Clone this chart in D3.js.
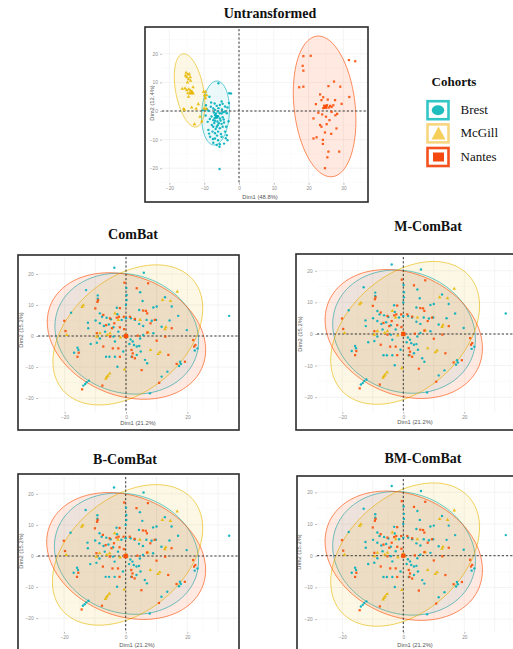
<!DOCTYPE html>
<html>
<head>
<meta charset="utf-8">
<script src="https://cdn.jsdelivr.net/npm/d3@7"></script>
<style>
  html, body { margin: 0; padding: 0; background: #ffffff; }
  svg { display: block; }
</style>
</head>
<body>
<svg id="chart" width="513" height="649"></svg>
<script>
// ---------------- data ----------------
const cohorts = ["Brest", "McGill", "Nantes"];
const cohortColors = ["#00AFBB", "#E7B800", "#FC4E07"];

const panelTitles = ["Untransformed", "ComBat", "M-ComBat", "B-ComBat", "BM-ComBat"];
const rawAxisTitles = ["Dim1 (48.8%)", "Dim2 (12.4%)"];
const harmonizedAxisTitles = ["Dim1 (21.2%)", "Dim2 (15.2%)"];
const rawXTicks = [-20, -10, 0, 10, 20, 30];
const rawYTicks = [-20, -10, 0, 10, 20];
const harmonizedXTicks = [-20, 0, 20];
const harmonizedYTicks = [-20, -10, 0, 10, 20];

// PCA scores before harmonization
const rawBrest = [
  [-5.9,9.7],[-8.5,5.0],[-2.8,6.2],[-2.3,6.1],[-5.0,3.3],[-6.4,1.8],[-5.5,2.1],[-4.7,2.5],[-4.0,1.6],[-3.3,1.2],
  [-8.1,1.5],[-7.4,0.9],[-6.9,0.4],[-9.2,0.6],[-8.8,0.1],[-10.3,0.3],[-6.0,-0.2],[-5.5,-0.8],[-5.0,-0.9],[-4.5,-0.4],
  [-4.0,-0.2],[-3.5,-0.8],[-6.9,-1.4],[-6.4,-2.2],[-6.0,-1.8],[-5.5,-2.6],[-4.7,-2.2],[-7.4,-3.2],[-6.9,-3.4],[-6.2,-3.7],
  [-5.8,-4.3],[-5.0,-4.5],[-4.3,-4.0],[-7.8,-4.9],[-7.4,-5.5],[-6.4,-5.5],[-5.5,-6.0],[-4.7,-5.5],[-3.7,-5.5],[-8.8,-6.6],
  [-7.6,-7.2],[-6.9,-7.8],[-6.0,-7.2],[-5.2,-8.0],[-4.0,-7.2],[-8.3,-9.0],[-6.9,-9.6],[-6.0,-10.2],[-5.0,-9.0],[-3.5,-8.5],
  [-7.4,-11.1],[-6.4,-11.9],[-5.5,-11.6],[-4.3,-11.4],[-3.3,-10.2],[-5.6,-20.3],[-7.2,-0.5],[-6.6,-0.9],[-7.9,-1.9],[-8.4,-2.8],
  [-7.0,-2.5],[-6.7,-6.3],[-5.3,-3.3],[-4.4,-3.0],[-6.1,-5.0],[-7.1,-4.2],[-5.9,1.0],[-4.9,0.5],[-8.0,3.0],[-7.0,2.6],
  [-9.6,-1.6],[-9.0,-3.8],[-3.8,-9.5],[-2.9,2.8],[-6.3,-8.6],[-7.5,-9.8],[-8.6,-7.9],[-5.6,-12.5],[-3.0,-3.6],[-9.5,2.0]
];
const rawMcGill = [
  [-15.2,13.4],[-14.7,12.8],[-14.3,12.9],[-15.0,11.8],[-14.5,11.1],[-13.9,10.6],[-14.8,10.0],[-15.5,7.9],[-15.0,7.3],[-14.4,7.6],
  [-13.9,7.1],[-13.6,6.7],[-14.7,6.2],[-14.1,6.2],[-14.5,5.0],[-16.3,7.8],[-15.9,0.7],[-15.7,0.4],[-10.2,6.7],[-9.6,6.7],
  [-9.9,5.5],[-9.3,5.5],[-9.6,4.5],[-11.2,-2.0],[-10.7,-3.7],[-11.7,2.4],[-13.6,1.2],[-12.3,0.8],[-10.0,0.9],[-9.4,0.8],
  [-13.2,8.3],[-15.4,12.3],[-14.0,11.8],[-12.8,-4.6]
];
const rawNantes = [
  [18.5,19.2],[20.6,19.3],[18.3,15.8],[18.5,14.1],[31.6,17.8],[33.4,17.4],[17.3,8.3],[18.5,8.5],[25.7,8.7],[27.3,10.3],
  [29.1,8.5],[23.3,5.8],[24.2,4.8],[23.7,3.8],[25.5,4.0],[27.6,3.8],[22.1,2.4],[24.7,1.6],[25.3,2.0],[25.8,1.2],
  [26.2,1.8],[26.6,1.4],[27.1,2.0],[24.2,1.0],[22.8,-0.6],[26.6,-0.3],[27.7,-1.5],[21.4,-2.6],[23.3,-4.9],[23.7,-5.5],
  [25.2,-4.6],[28.0,-6.1],[24.7,-7.5],[26.5,-8.0],[21.4,-9.6],[22.3,-9.2],[24.1,-10.1],[24.1,-11.5],[28.8,-14.2],[25.7,-14.2],
  [25.4,-16.2],[24.7,-20.0],[31.7,4.9],[28.2,-1.0],[25.0,-2.0],[23.9,-1.2],[26.0,-3.2],[29.5,2.5]
];
const rawCentroids = [[-6.4,-2.0],[-13.5,6.3],[24.8,1.5]];
// 95% ellipses: [cx, cy, half-width, half-height, correlation]
const rawEllipses = [
  [-6.75,-0.7,4.0,11.2,0.1],
  [-14.2,7.2,4.4,12.8,-0.38],
  [24.6,1.6,9.0,24.6,-0.2]
];

// PCA scores after harmonization (same for the four ComBat variants)
const harmonizedBrest = [
  [-3.8,22.0],[5.8,20.4],[-13.0,14.8],[-9.2,13.1],[-9.2,12.0],[0.1,15.5],[0.2,13.2],[4.6,14.1],[5.4,11.3],[8.9,9.2],
  [17.0,6.5],[33.6,6.5],[-17.9,7.5],[-3.0,9.1],[-7.8,6.2],[-6.3,5.9],[-4.9,5.4],[-8.5,4.1],[-7.2,3.2],[-5.6,3.7],
  [-4.1,2.8],[-6.8,1.4],[-1.4,5.2],[1.6,5.7],[2.9,5.2],[4.3,3.9],[5.6,3.2],[6.7,5.2],[8.4,4.9],[9.8,5.2],
  [1.5,-1.1],[2.2,-1.8],[2.6,-2.9],[3.5,-3.4],[4.3,-3.2],[1.1,-2.6],[-11.5,-2.6],[-8.5,-0.8],[-9.5,-2.2],[-6.5,-6.7],
  [-5.4,-6.7],[-3.6,-6.7],[-2.8,-9.9],[3.5,-6.1],[4.8,-5.0],[6.2,-7.7],[6.9,-8.8],[-15.8,-3.8],[-15.5,-4.5],[-16.9,-5.4],
  [23.3,-4.0],[22.4,-4.7],[17.6,-8.3],[17.9,-9.0],[17.3,-9.7],[-13.3,-15.5],[-12.8,-14.9],[-12.1,-14.4],[-13.9,-16.0],[7.8,-18.5],
  [13.5,-11.5],[11.6,-13.1],[10.0,9.5],[0.2,11.6],[0.0,10.0],[0.0,5.7],[-2.5,1.4],[8.9,0.9],[11.6,3.0],[14.9,9.5],
  [12.7,12.5],[-12.3,2.5],[19.8,1.9],[-4.1,-0.2],[-3.6,-1.8],[4.6,-0.8],[5.6,0.3],[-0.9,-5.0],[1.8,-6.7],[-8.5,7.3],
  [-2.8,7.0],[4.3,8.4],[-9.9,5.0],[-12.4,4.3],[14.2,5.0]
];
const harmonizedMcGill = [
  [-14.3,9.4],[-13.9,9.9],[11.9,11.6],[14.5,11.3],[16.7,14.3],[13.0,2.8],[12.7,2.2],[-6.1,0.3],[-5.2,0.9],[-9.5,-0.2],
  [10.5,-5.8],[11.1,-5.2],[-6.3,-13.3],[-5.9,-12.8],[-5.3,-12.1],[-6.6,-13.8],[-0.5,-10.8],[-19.3,0.3],[8.0,-4.5],[-8.5,0.9],
  [7.2,1.1],[-2.5,5.2],[-3.6,7.3],[4.6,5.2],[-1.8,-0.5]
];
const harmonizedNantes = [
  [-0.5,17.2],[7.2,17.0],[-9.1,11.6],[-9.3,11.0],[-10.0,8.9],[-20.1,4.9],[-19.7,1.6],[-5.2,5.7],[-3.0,5.9],[-2.3,6.2],
  [-3.8,4.1],[-2.0,2.8],[-4.6,2.5],[-6.5,3.5],[2.9,5.5],[5.6,8.2],[6.5,8.1],[6.9,7.3],[6.9,1.1],[14.9,2.5],
  [21.9,-1.3],[22.2,-3.4],[1.8,-4.5],[2.2,-5.6],[2.0,-6.7],[2.9,-7.2],[-4.3,-4.0],[-2.5,-4.0],[-7.4,-3.4],[-2.0,-6.7],
  [5.1,-11.0],[-15.8,-6.7],[-15.4,-5.4],[-7.7,-16.0],[-14.3,-17.2],[10.8,-15.1],[16.5,-9.0],[19.2,-8.3],[22.6,-2.9],[9.4,5.2],
  [-2.0,9.0],[-0.7,6.2],[10.0,-1.5],[12.8,-0.2],[13.8,-6.1],[8.0,4.1],[1.3,6.2],[3.8,0.1],[-5.2,-0.2],[-7.4,6.8],
  [3.5,15.4],[-9.5,0.9],[-0.6,2.2]
];
const harmonizedCentroids = [[0.1,0.1],[0.0,0.1],[0.0,0.0]];
const harmonizedEllipses = [
  [0.25,0.75,23.4,19.5,-0.12],
  [0.6,0.35,24.4,22.6,0.38],
  [0.15,0.0,25.8,20.4,-0.22]
];

// ---------------- layout ----------------
const rawSet = { points: [rawBrest, rawMcGill, rawNantes], centroids: rawCentroids, ellipses: rawEllipses,
                 xTicks: rawXTicks, yTicks: rawYTicks, titles: rawAxisTitles };
const harmSet = { points: [harmonizedBrest, harmonizedMcGill, harmonizedNantes], centroids: harmonizedCentroids,
                  ellipses: harmonizedEllipses, xTicks: harmonizedXTicks, yTicks: harmonizedYTicks, titles: harmonizedAxisTitles };

// box: frame rect, plot: panel rect, ox/oy: pixel of origin, kx/ky: pixels per unit
const layouts = [
  { set: rawSet, box: [145,27,368,202], plot: [162,29,367,183], ox: 239, kx: 3.48, oy: 111, ky: 2.86,
    title: [270,17.5], xLab: [260,199], yLab: [152,103], xPad: 2.2, yPad: 2.4, minorStep: 5 },
  { set: harmSet, box: [18,255,239,430], plot: [38,257,239,412], ox: 126, kx: 3.07, oy: 336, ky: 3.1,
    title: [133,238.5], xLab: [138,424.5], yLab: [21,330], xPad: 1.6, yPad: 2.6, minorStep: 5 },
  { set: harmSet, box: [296,254,540,430], plot: [317,257,540,412], ox: 403.3, kx: 3.05, oy: 334, ky: 3.16,
    title: [428,230.5], xLab: [415,424], yLab: [300,334], xPad: 1.4, yPad: 2.6, minorStep: 5 },
  { set: harmSet, box: [18,474,239,680], plot: [38,477,239,632], ox: 125.7, kx: 3.08, oy: 556, ky: 3.11,
    title: [125,463.5], xLab: [137,646.5], yLab: [21,551], xPad: 1.9, yPad: 2.6, minorStep: 5 },
  { set: harmSet, box: [297,476,540,680], plot: [317,479,540,632], ox: 403.3, kx: 3.05, oy: 555.7, ky: 3.17,
    title: [423,463], xLab: [415,646.5], yLab: [299,552], xPad: 1.9, yPad: 2.6, minorStep: 5 }
];

const svg = d3.select("#chart");
const serif = "'Liberation Serif', 'Times New Roman', serif";
const sans = "'Liberation Sans', Arial, sans-serif";
const shapes = [d3.symbolCircle, d3.symbolTriangle, d3.symbolSquare];
const pointSizes = [4.6, 5.4, 5.0];
const centroidSizes = [12, 14, 18];
const ellipseFillOpacity = [0.075, 0.1, 0.12];

function ellipsePath(e, x, y) {
  const [cx, cy, sx, sy, rho] = e;
  const s = Math.sqrt(1 - rho * rho);
  const pts = d3.range(0, 121).map(i => {
    const a = i / 120 * 2 * Math.PI;
    return [x(cx + sx * Math.cos(a)), y(cy + sy * (rho * Math.cos(a) + s * Math.sin(a)))];
  });
  return d3.line()(pts) + "Z";
}

layouts.forEach((L, pi) => {
  const S = L.set;
  const [px0, py0, px1, py1] = L.plot;
  const x = d3.scaleLinear().domain([(px0 - L.ox) / L.kx, (px1 - L.ox) / L.kx]).range([px0, px1]);
  const y = d3.scaleLinear().domain([(L.oy - py1) / L.ky, (L.oy - py0) / L.ky]).range([py1, py0]);
  const g = svg.append("g");
  const clipId = "clip" + pi;
  g.append("clipPath").attr("id", clipId)
    .append("rect").attr("x", px0).attr("y", py0).attr("width", px1 - px0).attr("height", py1 - py0);

  // grid
  const grid = g.append("g");
  const xd = x.domain(), yd = y.domain();
  const xMinor = d3.range(Math.ceil(xd[0] / L.minorStep) * L.minorStep, xd[1], L.minorStep);
  const yMinor = d3.range(Math.ceil(yd[0] / L.minorStep) * L.minorStep, yd[1], L.minorStep);
  grid.selectAll(".gx").data(xMinor).join("line")
    .attr("x1", d => x(d)).attr("x2", d => x(d)).attr("y1", py0).attr("y2", py1)
    .attr("stroke", d => d % 10 === 0 ? "#ebebeb" : "#f4f4f4").attr("stroke-width", d => d % 10 === 0 ? 0.6 : 0.4);
  grid.selectAll(".gy").data(yMinor).join("line")
    .attr("y1", d => y(d)).attr("y2", d => y(d)).attr("x1", px0).attr("x2", px1)
    .attr("stroke", d => d % 10 === 0 ? "#ebebeb" : "#f4f4f4").attr("stroke-width", d => d % 10 === 0 ? 0.6 : 0.4);

  const inner = g.append("g").attr("clip-path", `url(#${clipId})`);

  // ellipses
  S.ellipses.forEach((e, ci) => {
    inner.append("path").attr("d", ellipsePath(e, x, y))
      .attr("fill", cohortColors[ci]).attr("fill-opacity", ellipseFillOpacity[ci])
      .attr("stroke", cohortColors[ci]).attr("stroke-opacity", 0.75).attr("stroke-width", 0.85);
  });

  // reference lines
  inner.append("line").attr("x1", x(0)).attr("x2", x(0)).attr("y1", py0).attr("y2", py1)
    .attr("stroke", "#3a3a3a").attr("stroke-width", 1).attr("stroke-dasharray", "2.2,2");
  inner.append("line").attr("y1", y(0)).attr("y2", y(0)).attr("x1", px0).attr("x2", px1)
    .attr("stroke", "#3a3a3a").attr("stroke-width", 1).attr("stroke-dasharray", "2.2,2");

  // points
  S.points.forEach((pts, ci) => {
    inner.selectAll(null).data(pts).join("path")
      .attr("d", d3.symbol(shapes[ci], pointSizes[ci]))
      .attr("transform", d => `translate(${x(d[0])},${y(d[1])})`)
      .attr("fill", cohortColors[ci]).attr("fill-opacity", 0.9);
  });
  S.centroids.forEach((c, ci) => {
    inner.append("path").attr("d", d3.symbol(shapes[ci], centroidSizes[ci]))
      .attr("transform", `translate(${x(c[0])},${y(c[1])})`)
      .attr("fill", cohortColors[ci]);
  });

  // axes
  const xAxis = g.append("g").attr("transform", `translate(0,${py1})`)
    .call(d3.axisBottom(x).tickValues(S.xTicks).tickSize(1.8).tickPadding(L.xPad).tickFormat(d3.format("d")));
  const yAxis = g.append("g").attr("transform", `translate(${px0},0)`)
    .call(d3.axisLeft(y).tickValues(S.yTicks).tickSize(1.8).tickPadding(L.yPad).tickFormat(d3.format("d")));
  [xAxis, yAxis].forEach(a => {
    a.select(".domain").remove();
    a.selectAll(".tick line").attr("stroke", "#8a8a8a").attr("stroke-width", 0.6);
    a.selectAll(".tick text").attr("fill", "#8c8c8c").attr("font-family", sans).attr("font-size", 4.8);
  });

  g.append("text").attr("x", L.xLab[0]).attr("y", L.xLab[1]).attr("text-anchor", "middle")
    .attr("font-family", sans).attr("font-size", 5.8).attr("fill", "#555").text(S.titles[0]);
  g.append("text").attr("transform", `translate(${L.yLab[0]},${L.yLab[1]}) rotate(-90)`)
    .attr("text-anchor", "middle").attr("dy", "0.35em")
    .attr("font-family", sans).attr("font-size", 5.8).attr("fill", "#555").text(S.titles[1]);

  // frame
  const [bx0, by0, bx1, by1] = L.box;
  g.append("rect").attr("x", bx0).attr("y", by0).attr("width", bx1 - bx0).attr("height", by1 - by0)
    .attr("fill", "none").attr("stroke", "#2b2b2b").attr("stroke-width", 1.6);

  // title
  svg.append("text").attr("x", L.title[0]).attr("y", L.title[1]).attr("text-anchor", "middle")
    .attr("font-family", serif).attr("font-weight", "bold").attr("font-size", 14).attr("fill", "#111")
    .text(panelTitles[pi]);
});

// ---------------- legend ----------------
const legend = svg.append("g");
legend.append("text").attr("x", 454).attr("y", 86).attr("text-anchor", "middle")
  .attr("font-family", serif).attr("font-weight", "bold").attr("font-size", 13).attr("fill", "#111")
  .text("Cohorts");
const legendY = [110.2, 133.4, 157];
const legendStroke = ["#33C6C6", "#F7D680", "#F4511E"];
const legendFill = ["#1FBDBD", "#F6CF5A", "#F4480F"];
cohorts.forEach((name, i) => {
  const cy = legendY[i];
  legend.append("rect").attr("x", 427.5).attr("y", cy - 9).attr("width", 21).attr("height", 18)
    .attr("fill", "#fff").attr("stroke", legendStroke[i]).attr("stroke-width", 2.6);
  if (i === 0) {
    legend.append("ellipse").attr("cx", 438).attr("cy", cy).attr("rx", 6.2).attr("ry", 5).attr("fill", legendFill[i]);
  } else if (i === 1) {
    legend.append("path").attr("d", `M438.5,${cy - 7}L445.5,${cy + 6}L431.5,${cy + 6}Z`).attr("fill", legendFill[i]);
  } else {
    legend.append("rect").attr("x", 433).attr("y", cy - 4.5).attr("width", 11).attr("height", 9).attr("fill", legendFill[i]);
  }
  legend.append("text").attr("x", 460.5).attr("y", cy + 4).attr("font-family", serif).attr("font-size", 13)
    .attr("fill", "#111").text(name);
});
</script>
</body>
</html>
